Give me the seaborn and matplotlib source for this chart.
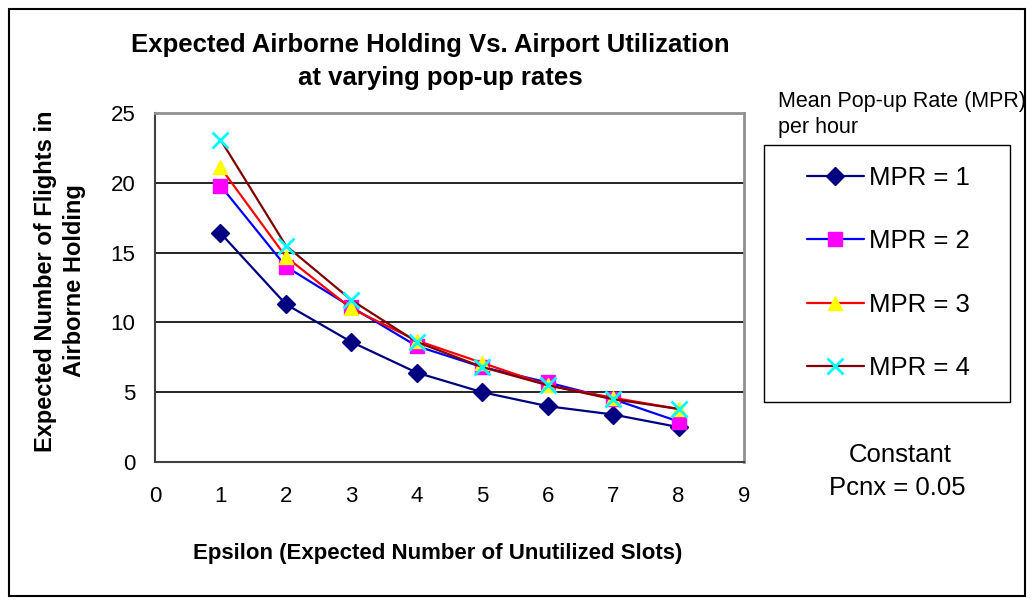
import matplotlib
matplotlib.use("Agg")
import matplotlib.pyplot as plt
import seaborn as sns
import pandas as pd
from matplotlib.patches import Rectangle

epsilon = [1, 2, 3, 4, 5, 6, 7, 8]
mpr1 = [16.4, 11.3, 8.6, 6.4, 5.0, 4.0, 3.4, 2.5]
mpr2 = [19.8, 14.0, 11.1, 8.3, 6.8, 5.7, 4.5, 2.9]
mpr3 = [21.1, 14.7, 11.0, 8.7, 7.1, 5.5, 4.6, 3.8]
mpr4 = [23.1, 15.5, 11.6, 8.6, 6.8, 5.5, 4.5, 3.8]
labels = ["MPR = 1", "MPR = 2", "MPR = 3", "MPR = 4"]

sns.set_theme(style="white")
plt.rcParams['font.family'] = ['Liberation Sans', 'DejaVu Sans']
plt.rcParams['text.color'] = 'black'
plt.rcParams['axes.labelcolor'] = 'black'
plt.rcParams['xtick.color'] = 'black'
plt.rcParams['ytick.color'] = 'black'

fig = plt.figure(figsize=(10.34, 6.03), dpi=100)
ax = fig.add_axes([155/1034, 1 - 462/603, (744-155)/1034, (462-113)/603])

series = [mpr1, mpr2, mpr3, mpr4]
line_colors = ["#000080", "#0000FF", "#FF0000", "#800000"]
markers = ["D", "s", "^", "x"]
mcolors = ["#000080", "#FF00FF", "#FFFF00", "#00FFFF"]
msizes = [9, 10, 10, 11]

handles = []
for vals, lab, lc, mk, mc, ms in zip(series, labels, line_colors, markers, mcolors, msizes):
    df = pd.DataFrame({"x": epsilon, "y": vals})
    sns.lineplot(data=df, x="x", y="y", ax=ax, color=lc, linewidth=1.6,
                 marker=mk, markersize=ms, markerfacecolor=mc, markeredgecolor=mc,
                 markeredgewidth=2 if mk == "x" else 1, label=lab, legend=False)
    handles.append(ax.lines[-1])

ax.set_xlim(0, 9)
ax.set_ylim(0, 25)
ax.set_xticks(range(0, 10))
ax.set_yticks(range(0, 30, 5))
ax.set_xlabel("")
ax.set_ylabel("")
for y in [5, 10, 15, 20]:
    ax.axhline(y, color="black", linewidth=1.2, zorder=0)

for side in ["top", "right"]:
    ax.spines[side].set_color("#909090")
    ax.spines[side].set_linewidth(2)
for side in ["left", "bottom"]:
    ax.spines[side].set_color("#404040")
    ax.spines[side].set_linewidth(1.5)

ax.tick_params(axis="both", which="major", direction="out", length=7, width=1,
               color="#404040", labelsize=16, labelcolor="black")
ax.tick_params(axis="x", pad=10)
ax.tick_params(axis="y", pad=7)

fig.text(430/1034, 1 - 45/603, "Expected Airborne Holding Vs. Airport Utilization",
         ha="center", va="center", fontsize=18.5, fontweight="bold")
fig.text(440/1034, 1 - 78/603, "at varying pop-up rates",
         ha="center", va="center", fontsize=18.5, fontweight="bold")

fig.text(60/1034, 1 - 281/603, "Expected Number of Flights in\nAirborne Holding",
         ha="center", va="center", rotation=90, fontsize=17, fontweight="bold",
         linespacing=1.35, multialignment="center")
fig.text(438/1034, 1 - 553/603, "Epsilon (Expected Number of Unutilized Slots)",
         ha="center", va="center", fontsize=16, fontweight="bold")

fig.text(778/1034, 1 - 102/603, "Mean Pop-up Rate (MPR)", ha="left", va="center", fontsize=15.5)
fig.text(778/1034, 1 - 127/603, "per hour", ha="left", va="center", fontsize=15.5)

leg = fig.legend(handles=handles, labels=labels, loc="center left",
                 bbox_to_anchor=(807/1034, 1 - 273/603), fontsize=18.5,
                 frameon=False, handlelength=2.2, labelspacing=1.52, borderpad=0,
                 handletextpad=0.2, borderaxespad=0)

fig.patches.append(Rectangle((764/1034, 1 - 402/603), 246/1034, 257/603,
                             transform=fig.transFigure, fill=False,
                             edgecolor="black", linewidth=1.0))

fig.text(900/1034, 1 - 455/603, "Constant", ha="center", va="center", fontsize=18.5)
fig.text(897/1034, 1 - 488/603, "Pcnx = 0.05", ha="center", va="center", fontsize=18.5)

fig.patches.append(Rectangle((9/1034, 1 - 596/603), 1016/1034, 587/603,
                             transform=fig.transFigure, fill=False,
                             edgecolor="black", linewidth=1.5))

fig.savefig("out.png", dpi=100)
